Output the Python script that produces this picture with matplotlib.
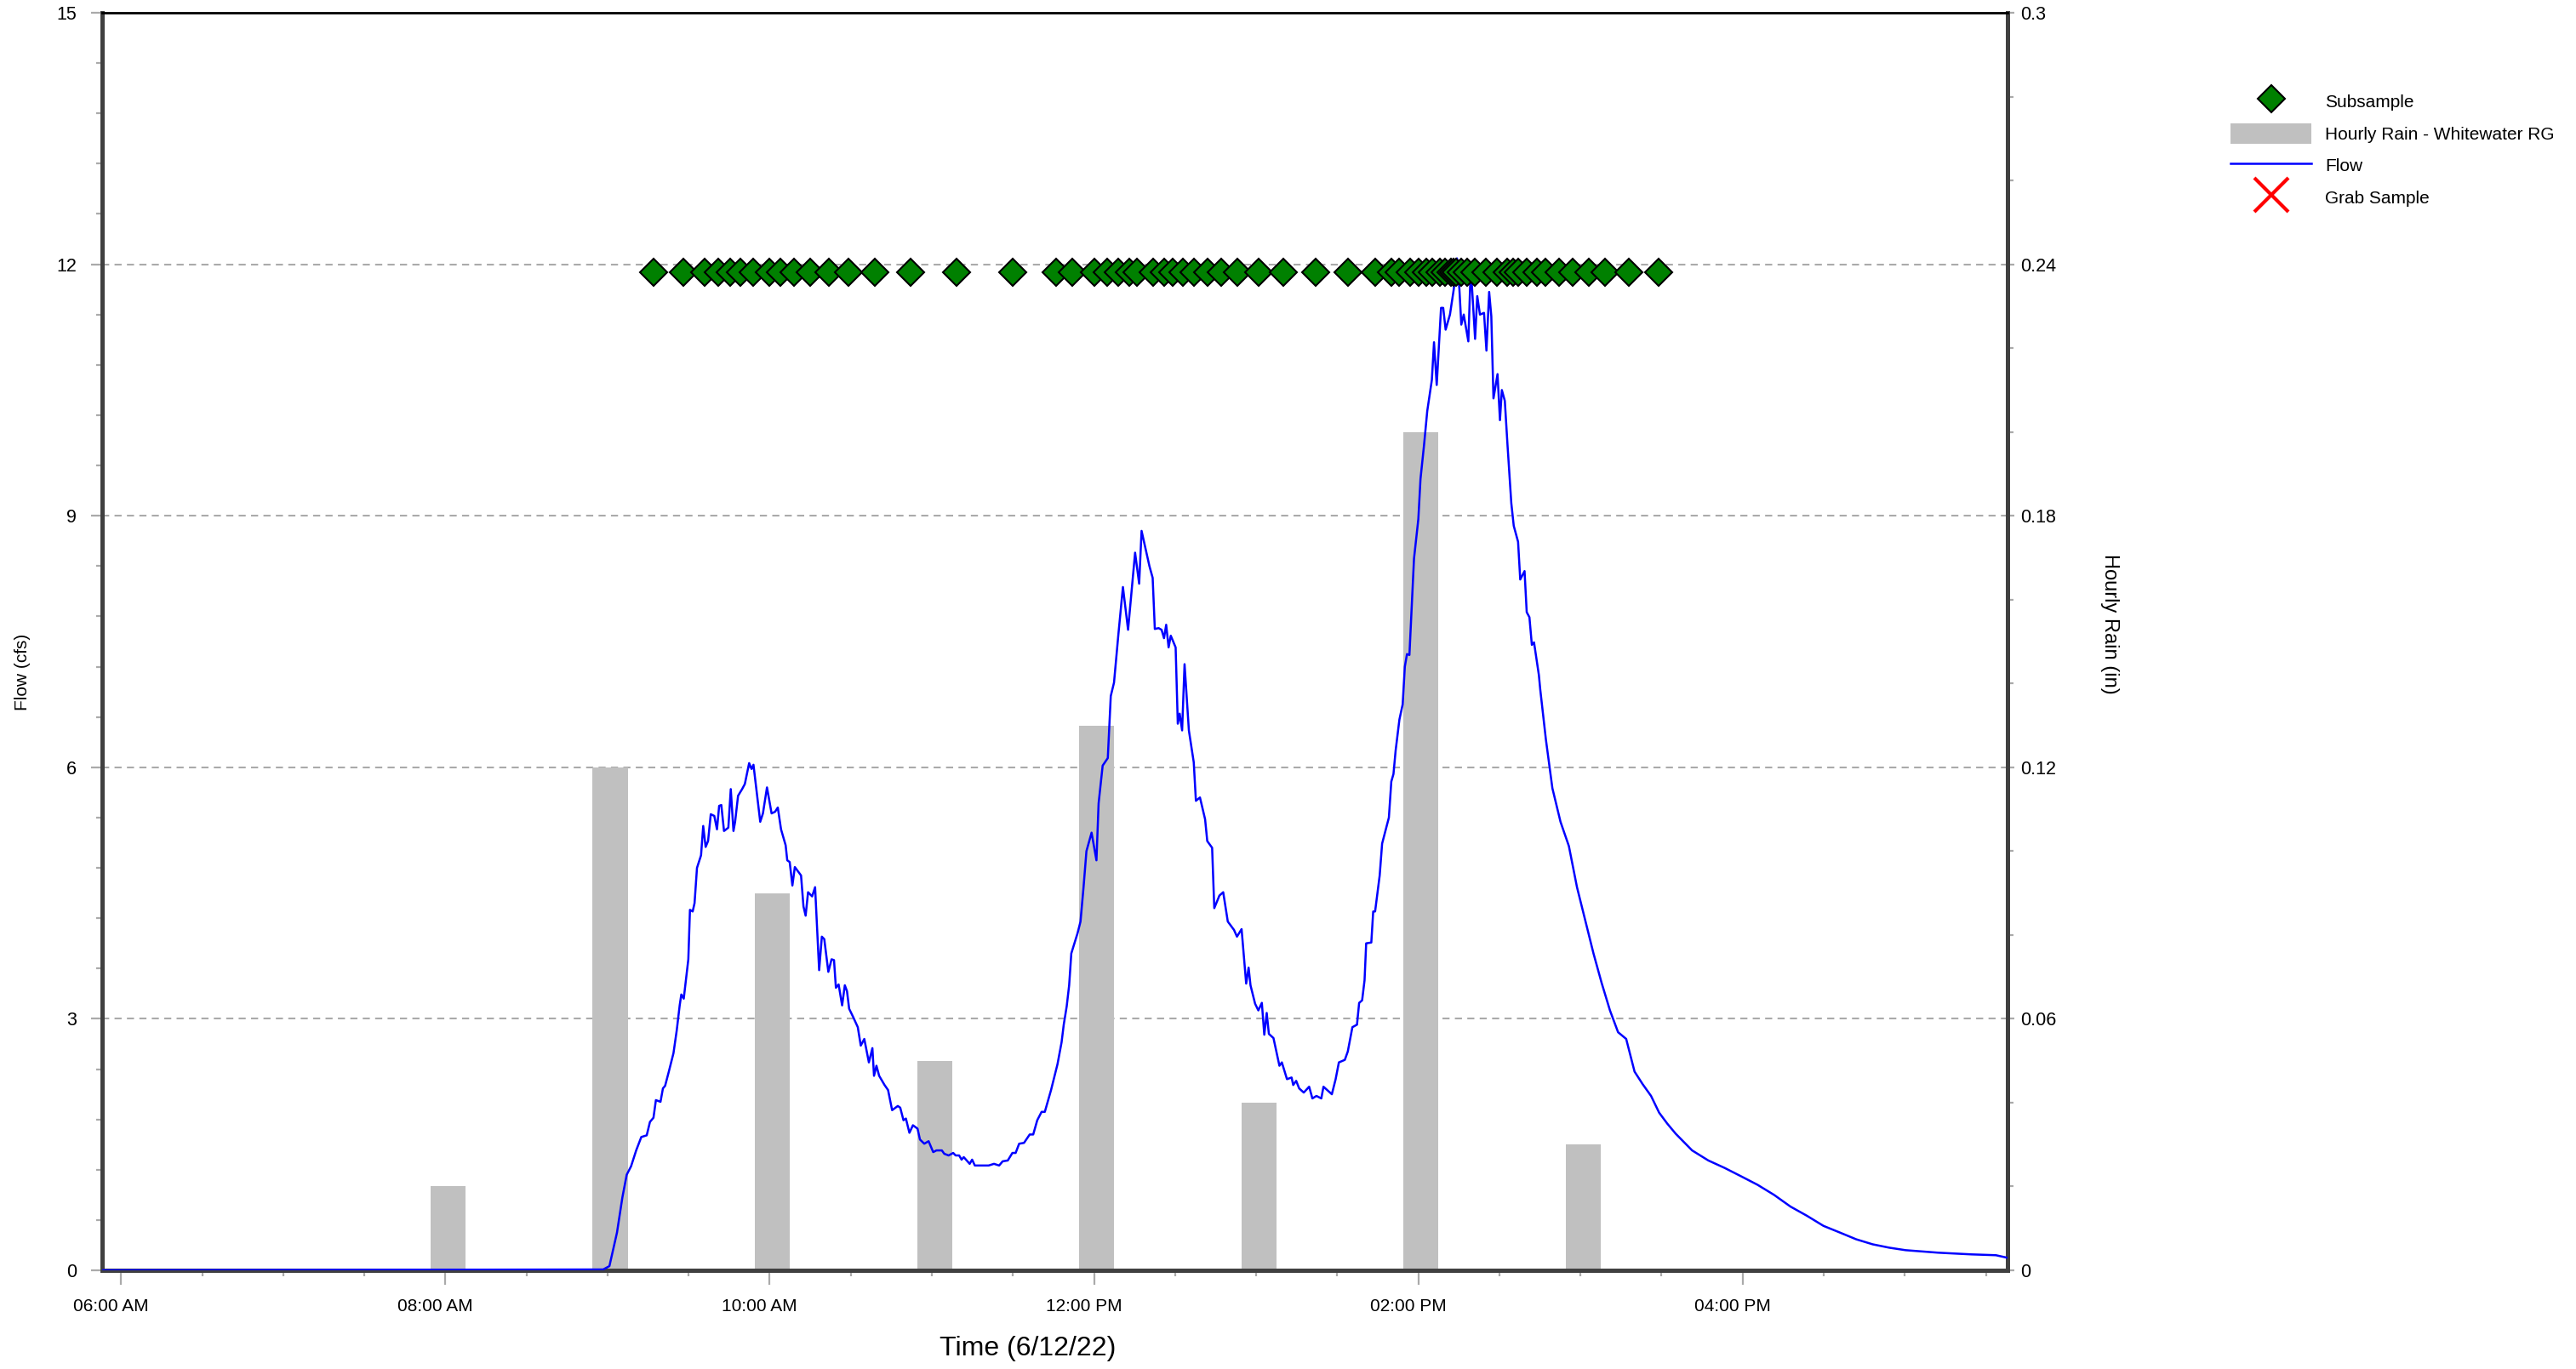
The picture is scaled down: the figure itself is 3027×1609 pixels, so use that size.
import numpy as np
import pandas as pd
import matplotlib
matplotlib.use('Agg')
import matplotlib.pyplot    as plt
import matplotlib.dates     as mdates
import matplotlib.transforms as mtransforms
from matplotlib.ticker import MultipleLocator, FuncFormatter

plt.rcParams['font.family'] = ['Liberation Sans', 'DejaVu Sans']

DAY = '2022-06-12 '

## Hourly rain at the Whitewater rain gauge (in)
rain_times = ['08:00', '09:00', '10:00', '11:00', '12:00', '13:00', '14:00', '15:00']
rain_in    = [0.02,    0.12,    0.09,    0.05,    0.13,    0.04,    0.20,    0.03]

## Subsample collection times (plotted on one level)
subsample_times = ['09:17', '09:28', '09:36', '09:41', '09:45:30', '09:49', '09:54', '10:00',
                   '10:04', '10:09', '10:15', '10:22', '10:29', '10:39', '10:52', '11:09',
                   '11:30', '11:46', '11:52', '12:00', '12:05', '12:09', '12:13', '12:16',
                   '12:22', '12:26', '12:29', '12:33', '12:37', '12:42', '12:47', '12:53',
                   '13:01', '13:10', '13:22', '13:34', '13:44', '13:50', '13:53', '13:57',
                   '14:00', '14:03', '14:05', '14:08', '14:10', '14:12', '14:13', '14:14',
                   '14:16', '14:18', '14:21', '14:25', '14:29', '14:33', '14:35', '14:37',
                   '14:40', '14:44', '14:47', '14:52', '14:57', '15:03', '15:09', '15:18',
                   '15:29']
subsample_level = 11.9

## Grab samples (none taken during this event)
grab_times = []
grab_flow  = []

## Flow (cfs)
flow_times = ['05:50', '08:49:24', '08:58:24', '09:00:42', '09:03:30', '09:05:30', '09:07:06', '09:08:42',
              '09:10:36', '09:12:30', '09:14:30', '09:15:42', '09:17:00', '09:17:54', '09:19:36', '09:20:30',
              '09:21:18', '09:22:36', '09:24:24', '09:25:36', '09:26:42', '09:27:18', '09:28:12', '09:29:54',
              '09:30:30', '09:31:30', '09:32:12', '09:33:06', '09:34:36', '09:35:24', '09:36:18', '09:37:12',
              '09:38:12', '09:39:30', '09:40:30', '09:41:18', '09:42:06', '09:43:06', '09:44:42', '09:45:36',
              '09:46:36', '09:47:12', '09:48:18', '09:49:48', '09:50:48', '09:52:24', '09:53:18', '09:54:00',
              '09:56:30', '09:57:30', '09:59:00', '10:00:42', '10:02:00', '10:03:00', '10:04:12', '10:05:54',
              '10:06:30', '10:07:24', '10:08:24', '10:09:18', '10:11:36', '10:12:30', '10:13:18', '10:14:12',
              '10:15:42', '10:16:48', '10:18:18', '10:19:18', '10:20:12', '10:21:42', '10:22:54', '10:23:48',
              '10:24:30', '10:25:30', '10:26:48', '10:27:48', '10:28:36', '10:29:24', '10:30:54', '10:32:36',
              '10:33:42', '10:35:00', '10:36:42', '10:38:00', '10:38:36', '10:39:30', '10:40:30', '10:42:30',
              '10:43:48', '10:45:18', '10:47:24', '10:48:18', '10:49:30', '10:50:24', '10:51:42', '10:53:00',
              '10:54:42', '10:55:36', '10:57:12', '10:58:48', '11:00:30', '11:01:42', '11:03:42', '11:04:36',
              '11:06:12', '11:07:54', '11:08:48', '11:10:06', '11:11:00', '11:11:48', '11:14:00', '11:14:54',
              '11:15:54', '11:21:00', '11:23:00', '11:24:54', '11:26:12', '11:28:06', '11:29:48', '11:31:00',
              '11:32:18', '11:34:06', '11:36:12', '11:37:30', '11:39:00', '11:40:36', '11:41:48', '11:44:06',
              '11:46:30', '11:48:00', '11:48:48', '11:49:54', '11:50:48', '11:51:36', '11:53:54', '11:55:00',
              '11:56:06', '11:57:12', '11:59:06', '12:00:54', '12:01:42', '12:03:12', '12:05:06', '12:06:12',
              '12:07:24', '12:09:00', '12:10:42', '12:12:36', '12:15:12', '12:16:42', '12:17:36', '12:19:12',
              '12:20:30', '12:21:42', '12:22:30', '12:23:54', '12:25:00', '12:25:54', '12:26:42', '12:27:36',
              '12:28:24', '12:30:12', '12:31:00', '12:31:42', '12:32:36', '12:33:30', '12:35:06', '12:36:54',
              '12:37:42', '12:39:12', '12:41:06', '12:41:54', '12:43:42', '12:44:30', '12:46:24', '12:47:48',
              '12:49:30', '12:51:48', '12:52:54', '12:54:36', '12:56:18', '12:57:12', '12:57:54', '12:59:36',
              '13:00:48', '13:02:06', '13:03:00', '13:03:54', '13:04:42', '13:06:24', '13:08:36', '13:09:30',
              '13:11:24', '13:13:06', '13:13:42', '13:14:48', '13:15:54', '13:17:36', '13:19:36', '13:20:48',
              '13:22:18', '13:24:06', '13:24:54', '13:28:00', '13:29:24', '13:30:36', '13:32:48', '13:33:54',
              '13:35:36', '13:37:18', '13:38:06', '13:39:12', '13:40:06', '13:40:42', '13:42:36', '13:43:18',
              '13:44:00', '13:45:42', '13:46:36', '13:49:06', '13:50:00', '13:50:48', '13:51:36', '13:53:00',
              '13:54:12', '13:55:00', '13:55:48', '13:56:42', '13:58:24', '14:00:00', '14:00:48', '14:02:06',
              '14:03:18', '14:05:00', '14:05:48', '14:06:48', '14:08:24', '14:09:12', '14:10:06', '14:11:42',
              '14:13:06', '14:14:18', '14:15:12', '14:15:54', '14:16:48', '14:18:30', '14:19:24', '14:21:00',
              '14:21:48', '14:22:48', '14:24:18', '14:25:12', '14:26:12', '14:27:00', '14:27:48', '14:29:18',
              '14:30:12', '14:30:54', '14:32:00', '14:33:00', '14:34:24', '14:35:18', '14:36:54', '14:37:42',
              '14:39:18', '14:40:06', '14:41:06', '14:42:00', '14:42:48', '14:44:36', '14:45:06', '14:47:12',
              '14:49:36', '14:52:36', '14:55:42', '14:58:42', '15:01:42', '15:04:48', '15:07:48', '15:10:54',
              '15:13:54', '15:16:54', '15:20:00', '15:23:00', '15:26:06', '15:29:06', '15:32:06', '15:35:12',
              '15:41:18', '15:47:18', '15:53:24', '15:59:30', '16:05:30', '16:11:36', '16:17:42', '16:23:48',
              '16:29:54', '16:36:00', '16:42:00', '16:48:06', '16:54:12', '17:00:18', '17:12:24', '17:24:36',
              '17:33:42', '17:37:54']
flow_cfs   = [0.00, 0.01, 0.01, 0.05, 0.45, 0.87, 1.14, 1.24,
              1.43, 1.59, 1.61, 1.77, 1.82, 2.03, 2.01, 2.17,
              2.20, 2.36, 2.59, 2.86, 3.16, 3.29, 3.24, 3.71,
              4.30, 4.28, 4.38, 4.80, 4.95, 5.30, 5.05, 5.12,
              5.44, 5.42, 5.26, 5.54, 5.55, 5.24, 5.28, 5.74,
              5.24, 5.35, 5.66, 5.74, 5.80, 6.05, 5.98, 6.03,
              5.35, 5.45, 5.76, 5.45, 5.47, 5.52, 5.26, 5.07,
              4.89, 4.87, 4.59, 4.81, 4.71, 4.34, 4.23, 4.51,
              4.46, 4.57, 3.58, 3.98, 3.95, 3.56, 3.71, 3.70,
              3.37, 3.41, 3.16, 3.40, 3.33, 3.12, 3.02, 2.90,
              2.68, 2.76, 2.48, 2.65, 2.32, 2.44, 2.32, 2.21,
              2.15, 1.91, 1.96, 1.94, 1.79, 1.81, 1.64, 1.73,
              1.69, 1.56, 1.51, 1.54, 1.41, 1.43, 1.43, 1.39,
              1.37, 1.40, 1.37, 1.37, 1.32, 1.35, 1.27, 1.32,
              1.25, 1.25, 1.27, 1.25, 1.30, 1.31, 1.40, 1.40,
              1.51, 1.52, 1.62, 1.62, 1.79, 1.89, 1.89, 2.15,
              2.46, 2.72, 2.93, 3.15, 3.40, 3.78, 4.02, 4.16,
              4.56, 5.00, 5.22, 4.89, 5.57, 6.02, 6.11, 6.85,
              7.01, 7.58, 8.15, 7.64, 8.56, 8.19, 8.82, 8.59,
              8.40, 8.26, 7.65, 7.66, 7.64, 7.54, 7.70, 7.43,
              7.57, 7.43, 6.52, 6.64, 6.44, 7.23, 6.44, 6.06,
              5.60, 5.64, 5.38, 5.12, 5.04, 4.32, 4.47, 4.51,
              4.16, 4.06, 3.98, 4.07, 3.42, 3.61, 3.40, 3.18,
              3.10, 3.19, 2.81, 3.07, 2.82, 2.77, 2.44, 2.48,
              2.28, 2.30, 2.21, 2.26, 2.17, 2.12, 2.19, 2.05,
              2.08, 2.05, 2.19, 2.10, 2.28, 2.48, 2.51, 2.61,
              2.90, 2.93, 3.19, 3.22, 3.46, 3.90, 3.91, 4.28,
              4.28, 4.71, 5.09, 5.40, 5.83, 5.92, 6.20, 6.57,
              6.75, 7.20, 7.35, 7.34, 8.49, 8.96, 9.44, 9.84,
              10.25, 10.62, 11.07, 10.56, 11.48, 11.48, 11.22, 11.40,
              11.70, 12.07, 11.70, 11.28, 11.40, 11.08, 11.97, 11.11,
              11.62, 11.40, 11.42, 10.97, 11.67, 11.38, 10.40, 10.69,
              10.14, 10.50, 10.37, 9.84, 9.15, 8.88, 8.69, 8.24,
              8.34, 7.85, 7.79, 7.46, 7.49, 7.10, 6.93, 6.33,
              5.75, 5.35, 5.06, 4.57, 4.18, 3.78, 3.43, 3.10,
              2.84, 2.76, 2.37, 2.22, 2.08, 1.88, 1.75, 1.63,
              1.43, 1.31, 1.22, 1.12, 1.02, 0.90, 0.76, 0.65,
              0.53, 0.45, 0.37, 0.31, 0.27, 0.24, 0.21, 0.19,
              0.18, 0.15]


to_dt = lambda ts: pd.to_datetime([DAY + t for t in ts], format='mixed')

rain_t  = to_dt(rain_times)
sub_t   = to_dt(subsample_times)
flow_t  = to_dt(flow_times)
grab_t  = to_dt(grab_times)

fig = plt.figure(figsize=(30.27, 16.09), dpi=100)
ax  = fig.add_axes([120/3027, 116/1609, 2239/3027, 1478/1609])
ax2 = ax.twinx()
ax.set_zorder(ax2.get_zorder() + 1)   ## flow + samples above rain bars
ax.patch.set_visible(False)

## Rain bars on right axis (logger draws them a minute past the hour)
bars = ax2.bar(rain_t + pd.Timedelta(minutes=1), rain_in, width=13/1440, color='#c0c0c0', zorder=2,
               label='Hourly Rain - Whitewater RG')
ax2.set_ylim(0, 0.3)
ax2.set_yticks(np.arange(0, 0.301, 0.06))
ax2.yaxis.set_minor_locator(MultipleLocator(0.02))
ax2.yaxis.set_major_formatter(FuncFormatter(lambda v, p: f'{v:g}'))
ax2.set_axisbelow(True)
ax2.grid(axis='y', which='major', color='#aaaaaa', linestyle=(0, (4, 3)), linewidth=1.5)
for sp in ax2.spines.values():
    sp.set_visible(False)
ax2.tick_params(axis='y', which='major', length=6, width=1.6, color='#aaaaaa', labelsize=15.5, pad=5)
ax2.tick_params(axis='y', which='minor', length=5, width=1.6, color='#aaaaaa')

## Flow and samples on left axis
h_flow, = ax.plot(flow_t, flow_cfs, color='#0000ff', linewidth=1.8, zorder=3, label='Flow')
h_sub,  = ax.plot(sub_t, [subsample_level]*len(sub_t), linestyle='none', marker='D', markersize=16.5,
                  markerfacecolor='#008000', markeredgecolor='black', markeredgewidth=1.5, zorder=4,
                  label='Subsample')
h_grab, = ax.plot(grab_t, grab_flow, linestyle='none', marker='x', markersize=29,
                  markeredgecolor='red', markeredgewidth=3, zorder=5, label='Grab Sample')

ax.set_ylim(0, 15)
ax.set_yticks(np.arange(0, 15.1, 3))
ax.yaxis.set_minor_locator(MultipleLocator(0.6))
ax.set_xlim(pd.Timestamp(DAY + '05:53'), pd.Timestamp(DAY + '17:38'))
ax.xaxis.set_major_locator(mdates.HourLocator(byhour=range(0, 24, 2)))
ax.xaxis.set_minor_locator(mdates.MinuteLocator(byminute=[0, 30]))
ax.xaxis.set_major_formatter(mdates.DateFormatter('%I:%M %p'))

ax.tick_params(axis='y', which='major', length=9.4, width=1.6, color='#aaaaaa', labelsize=15.5, pad=12)
ax.tick_params(axis='y', which='minor', length=5, width=1.6, color='#aaaaaa')
ax.tick_params(axis='x', which='major', length=12, width=1.6, color='#aaaaaa', labelsize=15, pad=12)
ax.tick_params(axis='x', which='minor', length=5, width=1.6, color='#aaaaaa')

shift = mtransforms.ScaledTranslation(-12/100, 0, fig.dpi_scale_trans)
for lab in ax.get_xticklabels():
    lab.set_transform(lab.get_transform() + shift)

for side in ['left', 'bottom', 'right']:
    ax.spines[side].set_color('#404040')
    ax.spines[side].set_linewidth(3.6)
ax.spines['top'].set_color('black')
ax.spines['top'].set_linewidth(2)

fig.text(27/3027, 1 - 790/1609, 'Flow (cfs)', rotation=90, ha='center', va='center', fontsize=15)
fig.text(2479/3027, 1 - 733/1609, 'Hourly Rain (in)', rotation=270, ha='center', va='center', fontsize=17)
fig.text(1208/3027, 1 - 1585/1609, 'Time (6/12/22)', ha='center', va='center', fontsize=23)

fig.legend([h_sub, bars, h_flow, h_grab],
           ['Subsample', 'Hourly Rain - Whitewater RG', 'Flow', 'Grab Sample'],
           loc='upper left', bbox_to_anchor=(2621/3027, 1 - 107/1609), frameon=False,
           fontsize=15, handlelength=4.57, handleheight=1.4, handletextpad=0.77,
           labelspacing=0.65, borderpad=0, borderaxespad=0, numpoints=1)

plt.savefig('out.png', dpi=100)
